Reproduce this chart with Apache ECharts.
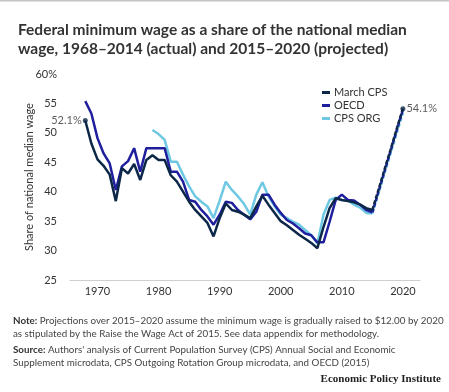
<!DOCTYPE html>
<html>
<head>
<meta charset="utf-8">
<script src="https://cdn.jsdelivr.net/npm/echarts@6/dist/echarts.min.js"></script>
<style>
html,body{margin:0;padding:0;background:#fff;}
#chart{width:449px;height:392px;}
</style>
</head>
<body>
<div id="chart"></div>
<script>
// ---- data ----
const actualYears = [1968,1969,1970,1971,1972,1973,1974,1975,1976,1977,1978,1979,1980,1981,1982,1983,1984,1985,1986,1987,1988,1989,1990,1991,1992,1993,1994,1995,1996,1997,1998,1999,2000,2001,2002,2003,2004,2005,2006,2007,2008,2009,2010,2011,2012,2013,2014,2015];
const marchCPS = [52.1,48.2,45.5,44.4,42.9,38.4,44.0,43.1,44.7,42.0,45.4,46.2,45.4,45.4,42.8,41.7,40.0,38.3,36.9,35.8,34.7,32.4,35.5,38.0,36.9,36.6,36.1,35.5,37.5,39.3,37.8,36.4,35.0,34.3,33.5,32.7,32.0,31.3,30.4,34.0,37.2,38.9,38.6,38.4,38.2,37.8,37.2,36.9];
const oecd = [55.4,53.3,49.1,46.5,44.8,40.3,44.3,45.2,47.4,43.4,47.4,47.4,47.4,47.4,43.4,43.4,41.7,38.6,38.3,36.9,35.8,34.4,36.1,38.3,38.1,36.9,36.1,35.3,36.6,39.5,39.5,37.8,36.4,35.2,34.6,33.8,32.9,32.6,31.4,31.4,34.9,38.6,39.5,38.6,38.5,37.8,36.9,36.5];
const orgYears = [1979,1980,1981,1982,1983,1984,1985,1986,1987,1988,1989,1990,1991,1992,1993,1994,1995,1996,1997,1998,1999,2000,2001,2002,2003,2004,2005,2006,2007,2008,2009,2010,2011,2012,2013,2014,2015];
const cpsOrg = [50.5,49.8,48.8,45.1,45.1,42.9,40.9,39.2,38.3,37.5,35.5,38.5,41.7,40.3,39.2,37.9,36.1,39.5,41.6,39.2,37.5,36.1,35.5,34.9,34.4,33.5,32.6,31.2,36.1,38.6,39.0,38.6,38.5,37.8,37.3,36.4,36.3];
const projYears = [2015,2016,2017,2018,2019,2020];
const marchCPSProj = [36.9,40.3,43.8,47.2,50.7,54.1];
const oecdProj = [36.5,40.0,43.5,47.0,50.5,53.9];
const cpsOrgProj = [36.3,39.7,43.2,46.6,50.0,53.4];
const xTicks = [1970,1980,1990,2000,2010,2020];
const seriesNames = ['March CPS','OECD','CPS ORG'];

const zip = (xs, ys) => xs.map((x,i)=>[x, ys[i]]);
const colors = {'March CPS':'#0c2747','OECD':'#1f1f9e','CPS ORG':'#6ec8e3'};
const font = 'Lato, "Open Sans", sans-serif';

const chart = echarts.init(document.getElementById('chart'), null, {renderer:'canvas'});
function lineSeries(name, data, dashed, z){
  return {
    name, type:'line', data, showSymbol:false, symbol:'none', z,
    lineStyle:{color:colors[name], width:2.5, type: dashed ? [4,2] : 'solid'},
    itemStyle:{color:colors[name]},
    animation:false, silent:true
  };
}
const endPoints = [
  [actualYears[0], marchCPS[0], 'left'],
  [projYears[projYears.length-1], marchCPSProj[marchCPSProj.length-1], 'right']
];
chart.setOption({
  animation:false,
  textStyle:{fontFamily:font},
  title:{
    text:'Federal minimum wage as a share of the national median\nwage, 1968–2014 (actual) and 2015–2020 (projected)',
    left:13, top:15,
    textStyle:{fontFamily:font, fontSize:15.5, fontWeight:'bold', color:'#333', lineHeight:19.5}
  },
  legend:{
    data:seriesNames,
    orient:'vertical', left:317, top:82,
    icon:'rect', itemWidth:8, itemHeight:3, itemGap:2,
    textStyle:{fontFamily:font, fontSize:11, color:'#333', lineHeight:11, padding:[0,0,0,-1]}
  },
  grid:{left:70, right:29, top:74, bottom:112, containLabel:false},
  xAxis:{
    type:'value', min:1965.5, max:2022.8,
    axisLine:{show:true, lineStyle:{color:'#cfcfcf', width:1}},
    axisTick:{show:false},
    splitLine:{show:false},
    axisLabel:{customValues:xTicks, color:'#333', fontSize:11, fontFamily:font, margin:6, formatter:v=>String(v)}
  },
  yAxis:{
    type:'value', min:25, max:60, interval:5,
    name:'Share of national median wage', nameLocation:'middle', nameGap:35, nameMoveOverlap:false,
    nameTextStyle:{color:'#333', fontSize:11, fontFamily:font},
    axisLine:{show:false}, axisTick:{show:false}, splitLine:{show:false},
    axisLabel:{color:'#333', fontSize:11, fontFamily:font, margin:13, formatter:v=> v===60 ? '60%' : String(v)}
  },
  series:[
    lineSeries('CPS ORG', zip(orgYears, cpsOrg), false, 2),
    lineSeries('OECD', zip(actualYears, oecd), false, 3),
    lineSeries('March CPS', zip(actualYears, marchCPS), false, 4),
    lineSeries('CPS ORG', zip(projYears, cpsOrgProj), true, 2),
    lineSeries('OECD', zip(projYears, oecdProj), true, 3),
    lineSeries('March CPS', zip(projYears, marchCPSProj), true, 4),
    {
      name:'endpoints', type:'scatter', z:5, symbolSize:5,
      itemStyle:{color:colors['March CPS']},
      data:endPoints.map(p=>({value:[p[0],p[1]], label:{show:true, position:p[2], distance:1,
        formatter:p[1].toFixed(1)+'%', color:'#333', fontSize:11, fontFamily:font}})),
      silent:true
    }
  ],
  graphic:[
    {type:'rect', shape:{x:0,y:0,width:449,height:1.5}, style:{fill:'#c4c4c4'}},
    {type:'text', left:13, top:315, style:{
      text:'{b|Note:} Projections over 2015–2020 assume the minimum wage is gradually raised to $12.00 by 2020\nas stipulated by the Raise the Wage Act of 2015. See data appendix for methodology.',
      fontFamily:font, fontSize:9.8, lineHeight:12.5, fill:'#444',
      rich:{b:{fontWeight:'bold', fontFamily:font, fontSize:9.8, fill:'#333', lineHeight:12.5}}
    }},
    {type:'text', left:13, top:344, style:{
      text:'{b|Source:} Authors\' analysis of Current Population Survey (CPS) Annual Social and Economic\nSupplement microdata, CPS Outgoing Rotation Group microdata, and OECD (2015)',
      fontFamily:font, fontSize:9.8, lineHeight:12.5, fill:'#444',
      rich:{b:{fontWeight:'bold', fontFamily:font, fontSize:9.8, fill:'#333', lineHeight:12.5}}
    }},
    {type:'text', right:8, top:374, style:{
      text:'Economic Policy Institute',
      fontFamily:'"Liberation Serif", "DejaVu Serif", serif', fontWeight:'bold', fontSize:11, fill:'#222'
    }}
  ]
});
</script>
</body>
</html>
